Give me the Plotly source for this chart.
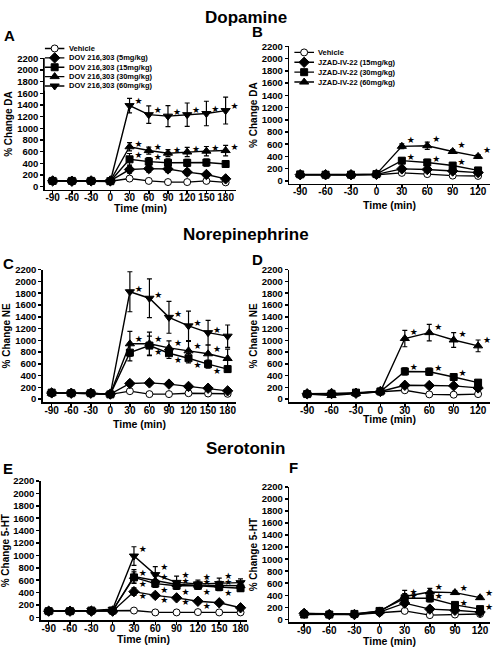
import plotly.graph_objects as go

W, H = 497, 649
FONT = "Liberation Sans, Arial, sans-serif"

# ---------------- data ----------------
T_DOV = [-90, -60, -30, 0, 30, 60, 90, 120, 150, 180]
T_JZ = [-90, -60, -30, 0, 30, 60, 90, 120]
Y_TICKS = list(range(0, 2201, 200))

DOV_NAMES = ["Vehicle", "DOV 216,303 (5mg/kg)", "DOV 216,303 (15mg/kg)",
             "DOV 216,303 (30mg/kg)", "DOV 216,303 (60mg/kg)"]
JZ_NAMES = ["Vehicle", "JZAD-IV-22 (15mg/kg)", "JZAD-IV-22 (30mg/kg)",
            "JZAD-IV-22 (60mg/kg)"]

# Panel A: Dopamine, DOV 216,303
A_VEH = [100, 100, 100, 95, 140, 100, 80, 80, 100, 75]
A_VEH_E = [10, 10, 10, 10, 20, 15, 10, 10, 10, 10]
A_D5 = [100, 95, 100, 100, 295, 310, 305, 250, 210, 135]
A_D5_E = [15, 15, 15, 15, 60, 60, 60, 50, 40, 25]
A_D15 = [100, 100, 100, 95, 470, 430, 410, 410, 415, 390]
A_D15_E = [15, 15, 15, 15, 100, 70, 70, 60, 60, 50]
A_D30 = [100, 100, 100, 100, 685, 620, 575, 595, 610, 620]
A_D30_E = [20, 15, 15, 15, 70, 60, 60, 80, 80, 90]
A_D60 = [100, 100, 100, 90, 1390, 1235, 1210, 1235, 1255, 1305]
A_D60_E = [20, 15, 20, 15, 125, 150, 180, 200, 210, 230]
A_SIG = [[], [], [30, 60], [30, 60, 90, 120, 150, 180], [30, 60, 90, 120, 150, 180]]

# Panel B: Dopamine, JZAD-IV-22
B_VEH = [100, 95, 95, 100, 130, 110, 85, 80]
B_VEH_E = [10, 10, 10, 10, 15, 15, 10, 10]
B_J15 = [100, 100, 100, 105, 195, 185, 160, 135]
B_J15_E = [15, 15, 15, 15, 40, 40, 30, 25]
B_J30 = [105, 100, 100, 110, 330, 300, 250, 170]
B_J30_E = [15, 15, 15, 15, 40, 50, 40, 30]
B_J60 = [100, 100, 100, 110, 565, 575, 480, 400]
B_J60_E = [15, 15, 15, 15, 40, 60, 30, 30]
B_SIG = [[], [], [30, 60, 90], [30, 60, 90, 120]]

# Panel C: Norepinephrine, DOV 216,303
C_VEH = [100, 100, 100, 80, 135, 85, 85, 100, 95, 90]
C_VEH_E = [10, 10, 10, 10, 15, 10, 10, 10, 10, 10]
C_D5 = [105, 100, 100, 85, 265, 275, 255, 215, 185, 140]
C_D5_E = [20, 20, 15, 15, 40, 40, 30, 30, 30, 20]
C_D15 = [110, 100, 100, 80, 790, 910, 780, 695, 595, 510]
C_D15_E = [20, 15, 15, 15, 140, 160, 90, 80, 70, 50]
C_D30 = [100, 100, 100, 85, 940, 940, 870, 820, 770, 690]
C_D30_E = [20, 15, 15, 15, 210, 200, 120, 160, 150, 160]
C_D60 = [100, 100, 100, 80, 1825, 1715, 1390, 1245, 1130, 1070]
C_D60_E = [20, 15, 15, 15, 340, 330, 270, 250, 210, 190]
C_SIG = [[], [], [60, 90, 120, 150], [30, 60, 90, 120, 150, 180], [30, 60, 90, 120, 150, 180]]

# Panel D: Norepinephrine, JZAD-IV-22
D_VEH = [90, 80, 100, 120, 150, 80, 75, 85]
D_VEH_E = [10, 10, 10, 15, 20, 10, 10, 10]
D_J15 = [90, 95, 100, 130, 235, 230, 225, 190]
D_J15_E = [20, 20, 20, 20, 30, 30, 25, 20]
D_J30 = [85, 90, 110, 130, 470, 465, 375, 280]
D_J30_E = [20, 20, 20, 20, 60, 60, 50, 40]
D_J60 = [85, 60, 95, 125, 1030, 1130, 1005, 905]
D_J60_E = [20, 20, 20, 20, 140, 140, 125, 100]
D_SIG = [[], [], [30, 60, 90], [30, 60, 90, 120]]

# Panel E: Serotonin, DOV 216,303
E_VEH = [100, 100, 100, 100, 110, 80, 80, 85, 80, 80]
E_VEH_E = [10, 10, 10, 10, 15, 10, 10, 10, 10, 10]
E_D5 = [100, 100, 100, 100, 415, 355, 315, 260, 235, 155]
E_D5_E = [20, 20, 20, 20, 60, 40, 30, 30, 25, 20]
E_D15 = [100, 100, 110, 110, 645, 545, 510, 510, 490, 470]
E_D15_E = [20, 20, 20, 20, 90, 60, 60, 60, 60, 50]
E_D30 = [100, 100, 110, 110, 660, 590, 530, 520, 520, 510]
E_D30_E = [20, 20, 20, 20, 110, 80, 60, 50, 60, 50]
E_D60 = [100, 100, 110, 130, 990, 690, 565, 540, 545, 560]
E_D60_E = [20, 20, 20, 20, 150, 130, 100, 60, 90, 60]
E_SIG = [[], [30, 60, 90, 120], [30, 60, 90, 120, 150, 180],
         [30, 60, 90, 120, 150, 180], [30, 60, 90, 120, 150, 180]]

# Panel F: Serotonin, JZAD-IV-22
F_VEH = [100, 85, 80, 110, 140, 70, 80, 90]
F_VEH_E = [10, 10, 10, 10, 15, 10, 10, 10]
F_J15 = [100, 80, 80, 120, 270, 170, 150, 120]
F_J15_E = [20, 20, 20, 20, 40, 30, 25, 20]
F_J30 = [80, 80, 90, 140, 350, 350, 240, 170]
F_J30_E = [15, 15, 15, 20, 80, 60, 40, 30]
F_J60 = [100, 90, 90, 130, 380, 455, 445, 360]
F_J60_E = [15, 15, 15, 20, 100, 60, 30, 25]
F_SIG = [[], [], [30, 60, 90, 120], [30, 60, 90, 120]]

# ---------------- styles ----------------
DOV_SYM = ["circle", "diamond", "square", "triangle-up", "triangle-down"]
JZ_SYM = ["circle", "diamond", "square", "triangle-up"]
SYM_SIZE = {"circle": 7, "diamond": 8, "square": 7, "triangle-up": 8, "triangle-down": 8}
SYM_FILL = {"circle": "white"}

# vertical shift of significance stars (value units) per series
A_SHIFT = [0, 0, 60, 40, 60]
B_SHIFT = [0, 0, 50, 90]
C_SHIFT = [0, 0, -130, 70, 40]
D_SHIFT = [0, 0, 55, 90]
E_SHIFT = [0, -85, -115, 45, 105]
F_SHIFT = [0, 0, 20, 70]

PANELS = [
    dict(letter="A", t=T_DOV, names=DOV_NAMES, sym=DOV_SYM,
         ys=[A_VEH, A_D5, A_D15, A_D30, A_D60],
         es=[A_VEH_E, A_D5_E, A_D15_E, A_D30_E, A_D60_E],
         sig=A_SIG, shift=A_SHIFT, ytitle="% Change DA",
         px=dict(left=45, right=237, xf=53, xl=227, top=53, zero=183, xt=205),
         lpos=(2, 30)),
    dict(letter="B", t=T_JZ, names=JZ_NAMES, sym=JZ_SYM,
         ys=[B_VEH, B_J15, B_J30, B_J60],
         es=[B_VEH_E, B_J15_E, B_J30_E, B_J60_E],
         sig=B_SIG, shift=B_SHIFT, ytitle="% Change DA",
         px=dict(left=291, right=493, xf=302, xl=481, top=41, zero=177, xt=201),
         lpos=(252, 26)),
    dict(letter="C", t=T_DOV, names=DOV_NAMES, sym=DOV_SYM,
         ys=[C_VEH, C_D5, C_D15, C_D30, C_D60],
         es=[C_VEH_E, C_D5_E, C_D15_E, C_D30_E, C_D60_E],
         sig=C_SIG, shift=C_SHIFT, ytitle="% Change NE",
         px=dict(left=43, right=237, xf=52, xl=229, top=267, zero=398, xt=423),
         lpos=(1, 261)),
    dict(letter="D", t=T_JZ, names=JZ_NAMES, sym=JZ_SYM,
         ys=[D_VEH, D_J15, D_J30, D_J60],
         es=[D_VEH_E, D_J15_E, D_J30_E, D_J60_E],
         sig=D_SIG, shift=D_SHIFT, ytitle="% Change NE",
         px=dict(left=291, right=493, xf=309, xl=481, top=267, zero=398, xt=418),
         lpos=(252, 257)),
    dict(letter="E", t=T_DOV, names=DOV_NAMES, sym=DOV_SYM,
         ys=[E_VEH, E_D5, E_D15, E_D30, E_D60],
         es=[E_VEH_E, E_D5_E, E_D15_E, E_D30_E, E_D60_E],
         sig=E_SIG, shift=E_SHIFT, ytitle="% Change 5-HT",
         px=dict(left=41, right=248, xf=49, xl=242, top=481, zero=619, xt=641),
         lpos=(1, 468)),
    dict(letter="F", t=T_JZ, names=JZ_NAMES, sym=JZ_SYM,
         ys=[F_VEH, F_J15, F_J30, F_J60],
         es=[F_VEH_E, F_J15_E, F_J30_E, F_J60_E],
         sig=F_SIG, shift=F_SHIFT, ytitle="% Change 5-HT",
         px=dict(left=291, right=493, xf=306, xl=483, top=487, zero=621, xt=643),
         lpos=(289, 467)),
]

fig = go.Figure()
annotations = []
layout = dict(
    width=W, height=H, margin=dict(l=0, r=0, t=0, b=0),
    paper_bgcolor="white", plot_bgcolor="white", showlegend=False,
    font=dict(family=FONT, color="black"),
)

TICKFONT = dict(family=FONT, size=10, color="black", weight="bold")

for n, p in enumerate(PANELS, start=1):
    q = p["px"]
    t = p["t"]
    span = t[-1] - t[0]
    ppu = (q["xl"] - q["xf"]) / span
    xmin = t[0] - (q["xf"] - q["left"]) / ppu
    xmax = t[-1] + (q["right"] - q["xl"]) / ppu
    ppy = (q["zero"] - q["top"]) / 2200.0
    bottom = q["zero"] + 3
    ymin = -(bottom - q["zero"]) / ppy
    xa = "x" if n == 1 else f"x{n}"
    ya = "y" if n == 1 else f"y{n}"
    layout[f"xaxis{n}"] = dict(
        domain=[q["left"] / W, q["right"] / W], range=[xmin, xmax],
        anchor=ya, showgrid=False, zeroline=False, showline=True,
        linecolor="black", linewidth=1.5, ticks="outside", ticklen=3,
        tickwidth=1.5, tickcolor="black", tickmode="array", tickvals=t,
        ticktext=[str(v) for v in t], tickfont=TICKFONT, ticklabelstandoff=-5,
    )
    layout[f"yaxis{n}"] = dict(
        domain=[1 - bottom / H, 1 - q["top"] / H], range=[ymin, 2200],
        anchor=xa, showgrid=False, zeroline=False, showline=True,
        linecolor="black", linewidth=1.5, ticks="outside", ticklen=3,
        tickwidth=1.5, tickcolor="black", tickmode="array", tickvals=Y_TICKS,
        ticktext=[str(v) for v in Y_TICKS], tickfont=dict(TICKFONT, size=9.5),
        title=dict(text=p["ytitle"], font=dict(family=FONT, size=10, weight="bold"), standoff=2),
    )
    annotations.append(dict(
        text="Time (min)", x=(q["left"] + q["right"]) / 2 / W, y=1 - q["xt"] / H,
        xref="paper", yref="paper", xanchor="center", yanchor="middle",
        showarrow=False, font=dict(family=FONT, size=10.5, weight="bold", color="black"),
    ))
    dx = 9 / ppu
    for i, (yv, ev, sym, name) in enumerate(zip(p["ys"], p["es"], p["sym"], p["names"])):
        fig.add_trace(go.Scatter(
            x=t, y=yv, mode="lines+markers", name=name, xaxis=xa, yaxis=ya,
            line=dict(color="black", width=1.4),
            marker=dict(symbol=sym, size=SYM_SIZE[sym], color=SYM_FILL.get(sym, "black"),
                        line=dict(color="black", width=1)),
            error_y=dict(type="data", array=ev, visible=True, color="black",
                         thickness=1.2, width=2.5),
            cliponaxis=False, hoverinfo="skip",
        ))
    for i, (yv, ev) in enumerate(zip(p["ys"], p["es"])):
        sx, sy = [], []
        for tt in p["sig"][i]:
            k = t.index(tt)
            sx.append(tt + dx)
            sy.append(yv[k] + p["shift"][i])
        if sx:
            fig.add_trace(go.Scatter(
                x=sx, y=sy, mode="text", text=["★"] * len(sx), xaxis=xa, yaxis=ya,
                textfont=dict(family="DejaVu Sans", size=9, color="black"),
                textposition="middle center", cliponaxis=False, hoverinfo="skip",
            ))
    annotations.append(dict(
        text=p["letter"], x=p["lpos"][0] / W, y=1 - p["lpos"][1] / H,
        xref="paper", yref="paper", xanchor="left", yanchor="middle",
        showarrow=False, font=dict(family=FONT, size=15, weight="bold", color="black"),
    ))

# ---------------- legends (panels A and B) ----------------
LEGENDS = [
    dict(panel=0, x0=45, x1=65, row0=43, step=9.5),
    dict(panel=1, x0=296, x1=316, row0=47, step=10),
]
for j, lg in enumerate(LEGENDS, start=7):
    p = PANELS[lg["panel"]]
    nrow = len(p["names"])
    top = lg["row0"] - lg["step"] / 2
    bot = lg["row0"] + lg["step"] * (nrow - 0.5)
    layout[f"xaxis{j}"] = dict(domain=[lg["x0"] / W, lg["x1"] / W], range=[0, 1],
                               visible=False, anchor=f"y{j}")
    layout[f"yaxis{j}"] = dict(domain=[1 - bot / H, 1 - top / H], range=[nrow - 0.5, -0.5],
                               visible=False, anchor=f"x{j}")
    for i, (sym, name) in enumerate(zip(p["sym"], p["names"])):
        fig.add_trace(go.Scatter(
            x=[0, 1], y=[i, i], mode="lines", xaxis=f"x{j}", yaxis=f"y{j}",
            line=dict(color="black", width=1.4), hoverinfo="skip", cliponaxis=False,
        ))
        fig.add_trace(go.Scatter(
            x=[0.5], y=[i], mode="markers", xaxis=f"x{j}", yaxis=f"y{j}",
            marker=dict(symbol=sym, size=SYM_SIZE[sym], color=SYM_FILL.get(sym, "black"),
                        line=dict(color="black", width=1)),
            hoverinfo="skip", cliponaxis=False,
        ))
        annotations.append(dict(
            text=name, x=1, y=i, xref=f"x{j}", yref=f"y{j}", xanchor="left",
            yanchor="middle", xshift=2, showarrow=False,
            font=dict(family=FONT, size=7.5, weight="bold", color="black"),
        ))

# ---------------- section titles ----------------
SECTION_TITLES = ["Dopamine", "Norepinephrine", "Serotonin"]
SECTION_Y = [12, 231, 448]
for txt, yy in zip(SECTION_TITLES, SECTION_Y):
    annotations.append(dict(
        text=txt, x=247 / W, y=1 - yy / H, xref="paper", yref="paper",
        xanchor="center", yanchor="middle", showarrow=False,
        font=dict(family=FONT, size=17, weight="bold", color="black"),
    ))

layout["annotations"] = annotations
fig.update_layout(**layout)
fig.write_html("out.html", config={"displayModeBar": False, "staticPlot": True},
               post_script="document.body.style.margin='0';document.body.style.padding='0';")
